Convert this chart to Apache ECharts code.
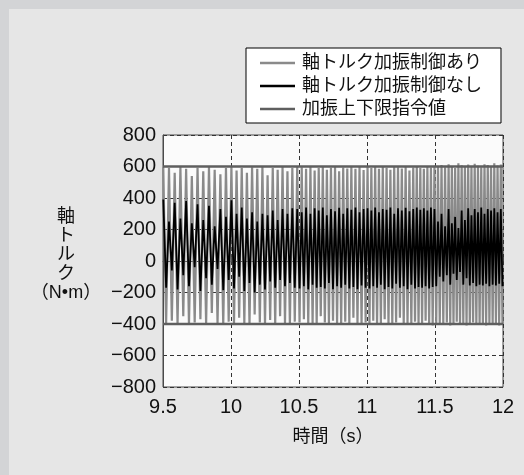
<!DOCTYPE html>
<html>
<head>
<meta charset="utf-8">
<script src="https://cdn.jsdelivr.net/npm/echarts@6/dist/echarts.min.js"></script>
<style>
  html, body { margin: 0; padding: 0; background: #d3d4d6; }
  #frame { position: relative; width: 524px; height: 475px; background: #d3d4d6; overflow: hidden; }
  #chart { position: absolute; left: 9px; top: 9px; width: 515px; height: 466px; background: #e6e6e6; }
</style>
</head>
<body>
<div id="frame"><div id="chart"></div></div>
<script>
// Time (s) of each successive peak / trough of the sweep excitation
const times = [
  9.502, 9.523, 9.544, 9.565, 9.586, 9.607, 9.628, 9.649, 9.670, 9.691, 9.712, 9.733,
  9.754, 9.775, 9.796, 9.817, 9.838, 9.859, 9.880, 9.901, 9.922, 9.943, 9.963, 9.983,
  10.003, 10.022, 10.041, 10.060, 10.079, 10.098, 10.117, 10.136, 10.155, 10.174, 10.193, 10.212,
  10.231, 10.250, 10.269, 10.288, 10.307, 10.325, 10.343, 10.361, 10.379, 10.397, 10.415, 10.433,
  10.451, 10.469, 10.487,
  10.504, 10.520, 10.536, 10.552, 10.568, 10.584, 10.600, 10.615, 10.630, 10.645, 10.660, 10.675,
  10.690, 10.705, 10.720, 10.735, 10.750, 10.765, 10.780, 10.795, 10.810, 10.825, 10.840, 10.855,
  10.870, 10.885, 10.900, 10.915, 10.930, 10.945, 10.960, 10.975, 10.990,
  11.004, 11.018, 11.032, 11.046, 11.060, 11.074, 11.088, 11.102, 11.116, 11.130, 11.144, 11.158,
  11.172, 11.186, 11.200, 11.214, 11.228, 11.242, 11.256, 11.270, 11.284, 11.298, 11.312, 11.326,
  11.340, 11.353, 11.366, 11.379, 11.392, 11.405, 11.418, 11.431, 11.444, 11.457, 11.470, 11.483,
  11.496,
  11.509, 11.522, 11.535, 11.548, 11.561, 11.574, 11.587, 11.600, 11.612, 11.624, 11.636, 11.648,
  11.660, 11.672, 11.684, 11.696, 11.708, 11.720, 11.732, 11.744, 11.756, 11.768, 11.780, 11.792,
  11.804, 11.816, 11.828, 11.840, 11.852, 11.864, 11.876, 11.888, 11.900, 11.912, 11.924, 11.936,
  11.948, 11.960, 11.972, 11.984, 11.996
];

// Shaft torque with excitation control (N·m), alternating peak / trough
const torqueWithControl = [
  595,-395, 590,-380, 560,-400, 598,-350, 585,-405, 540,-390, 592,-370, 570,-400, 596,-330, 580,-395, 550,-405, 590,-385,
  597,-400, 575,-360, 590,-395, 560,-405, 595,-340, 585,-390, 598,-400, 545,-375, 590,-400, 580,-350, 596,-395, 570,-405, 590,-385,
  600,-390, 595,-370, 585,-400, 598,-395, 575,-405, 590,-350, 596,-390, 580,-400, 592,-380, 599,-395, 570,-405, 594,-385,
  588,-400, 597,-360, 585,-395, 600,-400, 578,-390,
  596,-405, 590,-380, 600,-400, 585,-395, 598,-370, 592,-405, 580,-400, 600,-390, 595,-360, 588,-405, 599,-395, 575,-400,
  594,-385, 600,-405, 590,-395, 585,-380, 598,-400, 593,-410,
  605,-400, 600,-395, 610,-405, 595,-390, 615,-410, 602,-400, 590,-385, 620,-405, 608,-395, 598,-410, 612,-400, 600,-390,
  618,-405, 605,-400, 595,-395, 615,-410, 610,-400, 600,-405, 620,-395, 606,-410, 612,-400
];

// Shaft torque without excitation control (N·m), alternating peak / trough
const torqueWithoutControl = [
  390,-170, 250,-60, 370,-180, 270,-90, 380,-160, 240,-40, 360,-190, 260,-110, 350,-150, 220,-50, 330,-185, 280,-120,
  385,-175, 300,-100, 340,-190, 270,-140, 310,-200, 250,-150, 300,-180, 290,-130, 320,-170, 260,-120, 330,-160, 300,-140, 335,-170,
  330,-175, 310,-160, 340,-180, 300,-150, 335,-170, 320,-165, 340,-175, 290,-140, 330,-180, 315,-160, 338,-170, 300,-150,
  335,-175, 325,-165, 340,-180, 310,-155, 330,-170,
  335,-175, 320,-160, 340,-170, 310,-150, 330,-180, 325,-165, 340,-175, 300,-145, 335,-170, 320,-160, 338,-180, 315,-150,
  330,-175, 340,-165, 325,-170, 335,-160, 320,-175, 340,-165,
  330,-160, 250,-100, 300,-130, 220,-90, 330,-150, 240,-80, 280,-120, 210,-70, 320,-150, 260,-110, 335,-155, 290,-140,
  330,-160, 310,-150, 340,-155, 300,-145, 330,-160, 320,-150, 335,-155, 310,-145, 330,-160
];

// Upper / lower excitation limit command values (N·m)
const limitValues = [600, -400];
const timeRange = [9.5, 12];

const seriesNames = ['軸トルク加振制御あり', '軸トルク加振制御なし', '加振上下限指令値'];
const xTicks = [9.5, 10, 10.5, 11, 11.5, 12];

function pairUp(t, v) {
  const n = Math.min(t.length, v.length);
  const out = [];
  for (let i = 0; i < n; i++) out.push([t[i], v[i]]);
  return out;
}

const limitData = [];
limitValues.forEach(function (v, i) {
  if (i > 0) limitData.push([timeRange[1], '-']);
  limitData.push([timeRange[0], v], [timeRange[1], v]);
});

const FONT = "'Liberation Sans', 'Noto Sans CJK JP', sans-serif";
// plain horizontal stroke used as the legend key (the lone moves keep the box height)
const LINE_KEY = 'path://M0,0M0,6.3H35V8.7H0ZM35,15';

const chart = echarts.init(document.getElementById('chart'), null, { renderer: 'canvas' });

chart.setOption({
  animation: false,
  backgroundColor: '#e6e6e6',
  textStyle: { fontFamily: FONT },
  grid: {
    left: 154, top: 126, right: 21, bottom: 88,
    show: true, backgroundColor: '#fbfbfb', borderColor: '#4a4a4a', borderWidth: 1
  },
  legend: {
    left: 237, top: 39,
    orient: 'vertical',
    backgroundColor: '#ffffff',
    borderColor: '#000000', borderWidth: 1, borderRadius: 0,
    padding: [6, 19, 5, 14],
    icon: LINE_KEY,
    itemWidth: 35, itemHeight: 15, itemGap: 5,
    textStyle: { fontFamily: FONT, fontSize: 18, color: '#111', lineHeight: 18, padding: [0, 0, 0, 2] },
    data: [
      { name: seriesNames[0], itemStyle: { color: '#8a8a8a' } },
      { name: seriesNames[1], itemStyle: { color: '#000000' } },
      { name: seriesNames[2], itemStyle: { color: '#5f5f5f' } }
    ]
  },
  xAxis: {
    type: 'value',
    min: timeRange[0], max: timeRange[1], interval: 0.5,
    name: '時間（s）', nameLocation: 'middle', nameGap: 41,
    nameTextStyle: { fontFamily: FONT, fontSize: 18, color: '#111' },
    axisLine: { show: true, lineStyle: { color: '#4a4a4a', width: 1 } },
    axisTick: { show: true, inside: true, length: 4, lineStyle: { color: '#4a4a4a' } },
    axisLabel: {
      margin: 10, fontFamily: FONT, fontSize: 20, color: '#111',
      formatter: function (v) { return xTicks.indexOf(v) >= 0 ? String(v) : ''; }
    },
    splitLine: { show: true, lineStyle: { color: '#333', width: 1, type: [4, 3] } }
  },
  yAxis: {
    type: 'value',
    min: -800, max: 800, interval: 200,
    axisLine: { show: true, lineStyle: { color: '#4a4a4a', width: 1 } },
    axisTick: { show: false },
    axisLabel: {
      margin: 7, fontFamily: FONT, fontSize: 20, color: '#111',
      formatter: function (v) { return String(v).replace('-', '\u2212'); }
    },
    splitLine: { show: true, lineStyle: { color: '#333', width: 1, type: [4, 3] } }
  },
  graphic: [{
    type: 'text',
    x: 57, y: 246,
    style: {
      text: '軸\nト\nル\nク\n（N•m）',
      font: '18px ' + FONT,
      fill: '#111',
      align: 'center', verticalAlign: 'middle',
      lineHeight: 19
    }
  }],
  series: [
    {
      name: seriesNames[0], type: 'line', data: pairUp(times, torqueWithControl),
      symbol: 'none', showSymbol: false,
      lineStyle: { color: '#8a8a8a', width: 2.2 }, itemStyle: { color: '#8a8a8a' }
    },
    {
      name: seriesNames[1], type: 'line', data: pairUp(times, torqueWithoutControl),
      symbol: 'none', showSymbol: false,
      lineStyle: { color: '#000000', width: 1.8 }, itemStyle: { color: '#000000' }
    },
    {
      name: seriesNames[2], type: 'line', data: limitData,
      symbol: 'none', showSymbol: false, connectNulls: false,
      lineStyle: { color: '#5f5f5f', width: 2.4 }, itemStyle: { color: '#5f5f5f' }
    }
  ]
});
</script>
</body>
</html>
